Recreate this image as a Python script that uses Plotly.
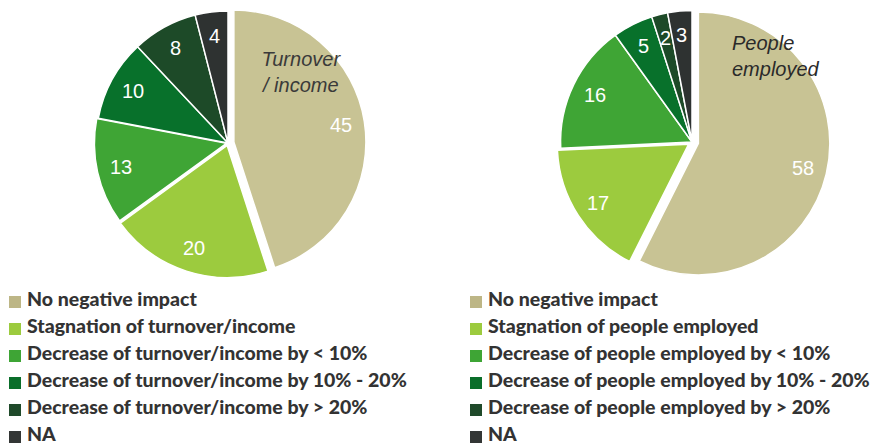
import math
import plotly.graph_objects as go

W, H = 871, 446

# ---------------- data ----------------
turnover_labels = [
    "No negative impact",
    "Stagnation of turnover/income",
    "Decrease of turnover/income by < 10%",
    "Decrease of turnover/income by 10% - 20%",
    "Decrease of turnover/income by > 20%",
    "NA",
]
turnover_values = [45, 20, 13, 10, 8, 4]

people_labels = [
    "No negative impact",
    "Stagnation of people employed",
    "Decrease of people employed by < 10%",
    "Decrease of people employed by 10% - 20%",
    "Decrease of people employed by > 20%",
    "NA",
]
people_values = [58, 17, 16, 5, 2, 3]

titles = ["Turnover<br>/ income", "People<br>employed"]

# ---------------- styles ----------------
colors = ["#C8C394", "#9CCB3E", "#3FA535", "#08712B", "#1D4A28", "#2E3231"]
legend_colors = ["#BDB686", "#9CCB3E", "#3EA535", "#0A6E2A", "#1F4A2A", "#333635"]
turnover_pull = [0.045, 0.02, 0.012, 0, 0, 0]
people_pull = [0.05, 0.03, 0, 0, 0, 0]
label_radius = 0.82  # fraction of pie radius where value labels sit
PIE_SIZE = 276


def px(x):
    return x / W


def py(y):
    return 1 - y / H


def domain(cx, cy, size):
    return dict(x=[px(cx - size / 2), px(cx + size / 2)],
                y=[py(cy + size / 2), py(cy - size / 2)])


def esc(s):
    return s.replace("<", "&lt;").replace(">", "&gt;")


pie_common = dict(
    sort=False,
    direction="clockwise",
    rotation=0,
    textinfo="none",
    showlegend=False,
    hoverinfo="label+value",
)

pies = [
    (turnover_labels, turnover_values, turnover_pull, (228, 143)),
    (people_labels, people_values, people_pull, (692, 142)),
]

fig = go.Figure()
annotations = []
shapes = []

for labels, values, pull, (cx, cy) in pies:
    fig.add_trace(go.Pie(
        labels=labels, values=values,
        marker=dict(colors=colors, line=dict(color="white", width=1.5)),
        pull=pull, domain=domain(cx, cy, PIE_SIZE), **pie_common))
    # value labels placed along each slice's mid-angle (same geometry as plotly's pie)
    r = PIE_SIZE / (2 * (1 + max(pull)))
    total = sum(values)
    cum = 0
    for v, p in zip(values, pull):
        mid = (cum + v / 2) / total * 2 * math.pi
        cum += v
        d = (label_radius + p) * r
        lx = cx + d * math.sin(mid)
        ly = cy - d * math.cos(mid)
        annotations.append(dict(text=str(v), x=px(lx), y=py(ly), xref="paper", yref="paper",
                                xanchor="center", yanchor="middle", showarrow=False,
                                font=dict(family="Liberation Sans, Arial, sans-serif",
                                          size=20, color="white")))

# pie titles
annotations.append(dict(text=titles[0], x=px(301), y=py(72), xref="paper", yref="paper",
                        xanchor="center", yanchor="middle", align="center", showarrow=False,
                        font=dict(family="Liberation Sans, Arial, sans-serif", size=20,
                                  color="#3A3A3A", style="italic")))
annotations.append(dict(text=titles[1], x=px(730), y=py(56), xref="paper", yref="paper",
                        xanchor="left", yanchor="middle", align="left", showarrow=False,
                        font=dict(family="Liberation Sans, Arial, sans-serif", size=20,
                                  color="#2A2A2A", style="italic")))

# legends (drawn as text + square swatches)
row0, row_step = 298, 27.0
for labels, text_x, sq_x in [(turnover_labels, 25, 9), (people_labels, 486, 470)]:
    for i, lab in enumerate(labels):
        ry = row0 + row_step * i
        annotations.append(dict(text=esc(lab), x=px(text_x), y=py(ry), xref="paper", yref="paper",
                                xanchor="left", yanchor="middle", showarrow=False,
                                font=dict(family="Lato, Liberation Sans, sans-serif", size=19.5,
                                          color="#333333", weight=900)))
        shapes.append(dict(type="rect", xref="paper", yref="paper",
                           x0=px(sq_x), x1=px(sq_x + 12), y0=py(ry + 10), y1=py(ry - 2),
                           fillcolor=legend_colors[i], line=dict(width=0)))

fig.update_layout(
    width=W, height=H,
    margin=dict(l=0, r=0, t=0, b=0),
    paper_bgcolor="white",
    plot_bgcolor="white",
    annotations=annotations,
    shapes=shapes,
)

fig.write_html("out.html")
